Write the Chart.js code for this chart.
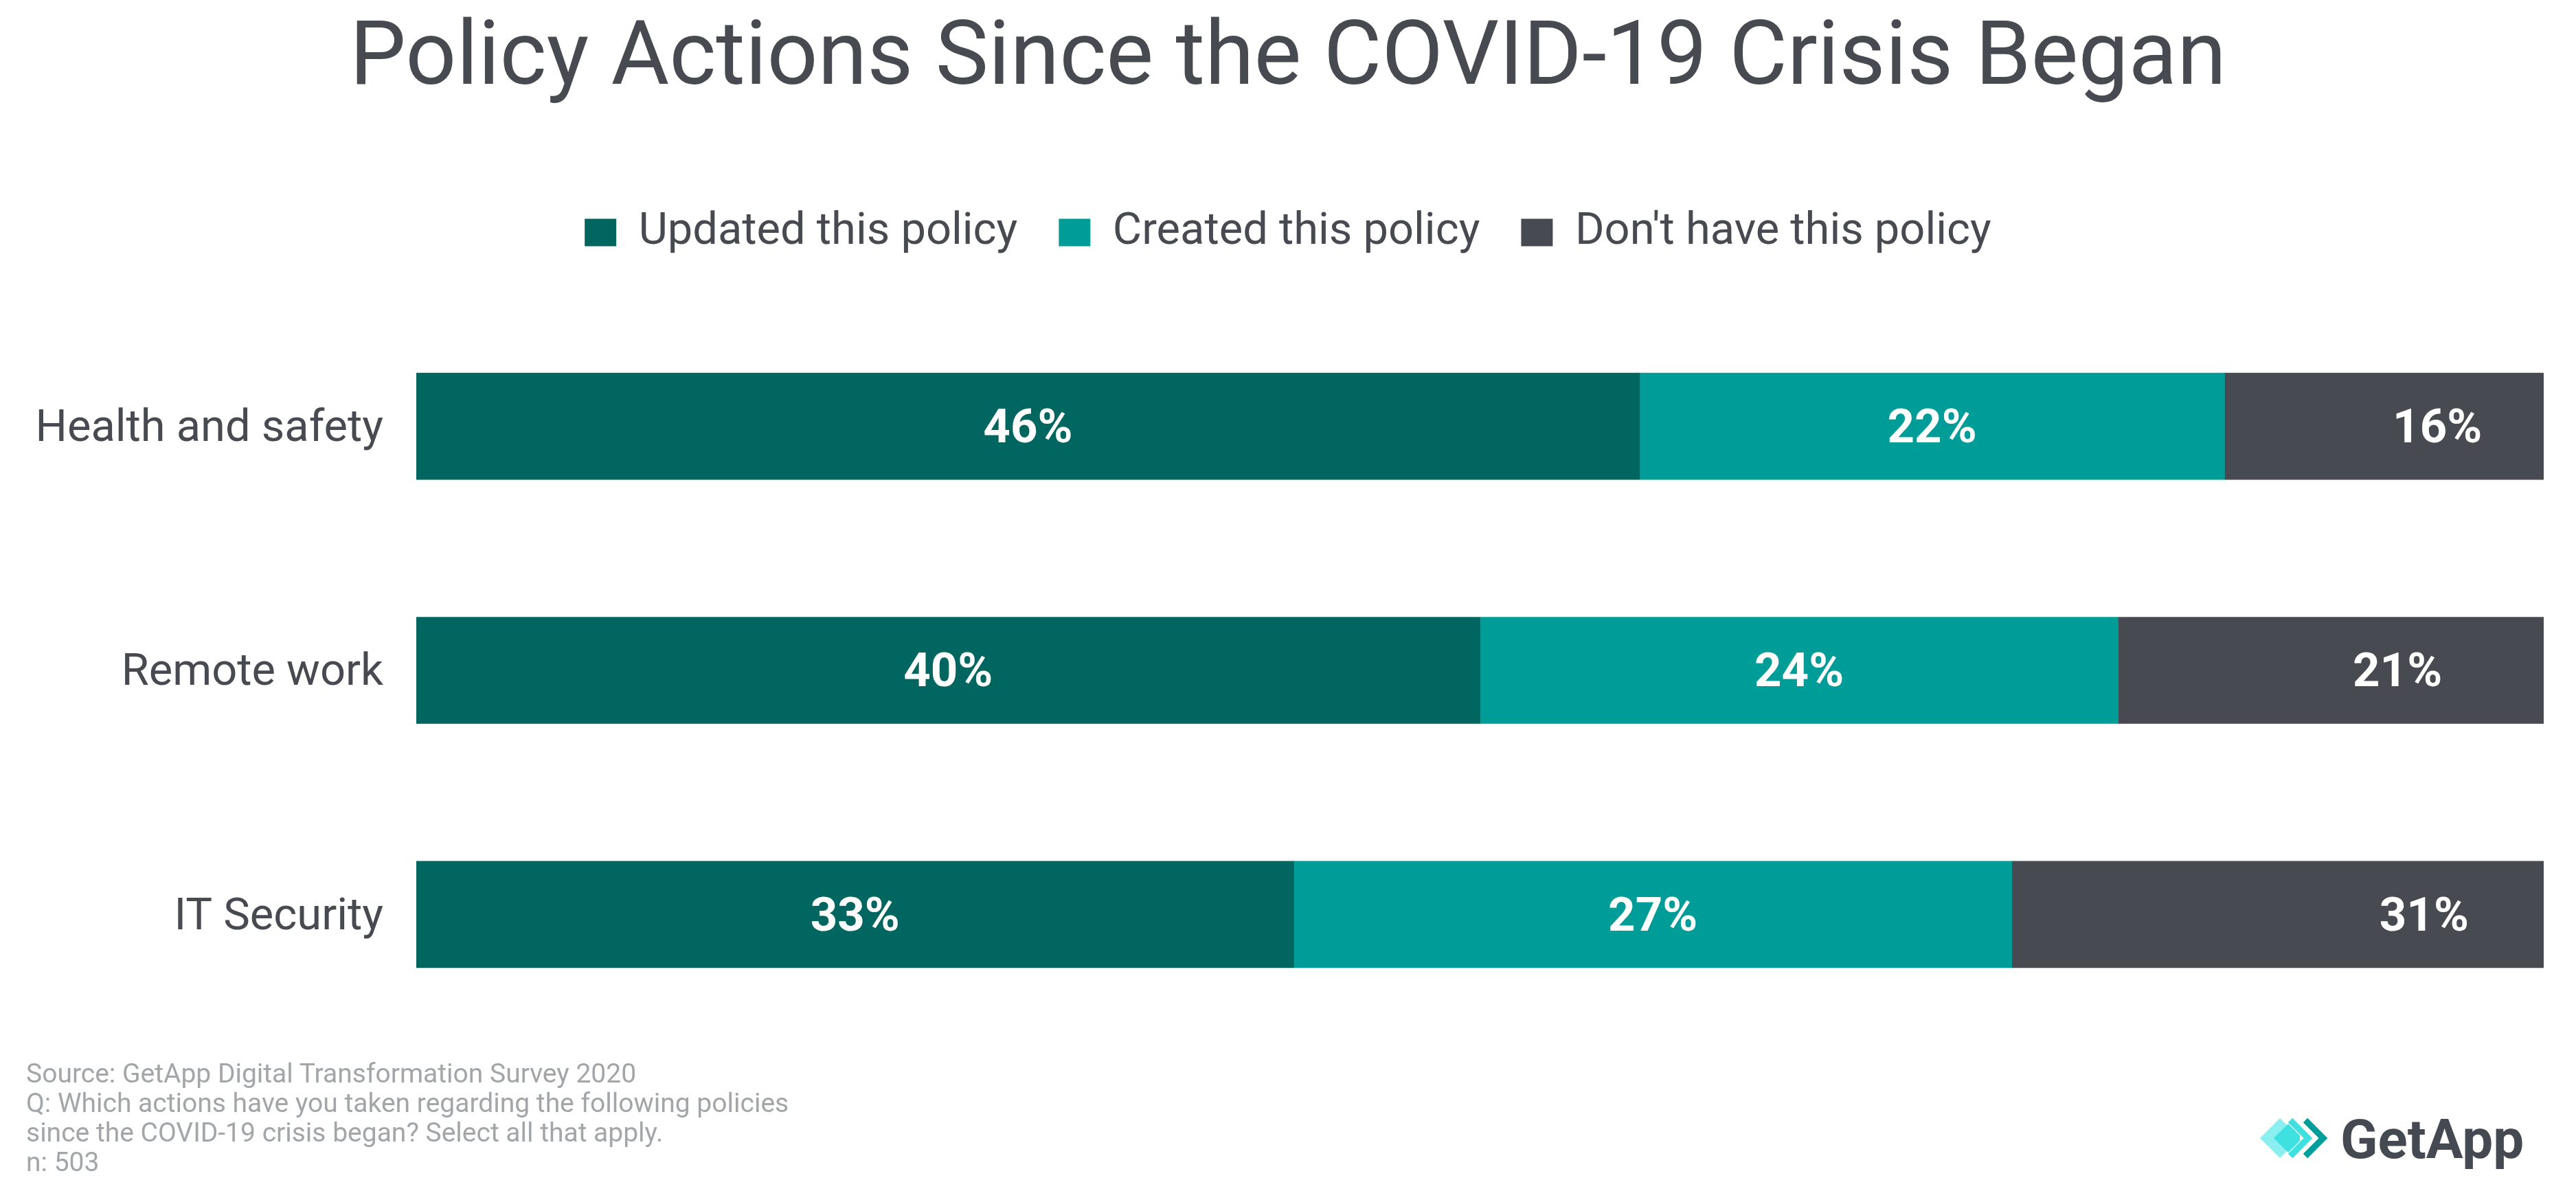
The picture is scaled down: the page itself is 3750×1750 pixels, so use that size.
<!DOCTYPE html>
<html>
<head>
<meta charset="utf-8">
<title>Policy Actions Since the COVID-19 Crisis Began</title>
<script src="https://cdn.jsdelivr.net/npm/chart.js@4.4.1/dist/chart.umd.min.js"></script>
<style>
  html, body { margin: 0; padding: 0; background: #ffffff; }
  #wrap { position: relative; width: 3750px; height: 1750px; overflow: hidden; }
  #chart, #notes { position: absolute; left: 0; top: 0; }
  #notes { pointer-events: none; font-family: Roboto, 'Noto Sans', sans-serif; }
</style>
</head>
<body>
<div id="wrap">
  <canvas id="chart" width="3750" height="1750"></canvas>
  <svg id="notes" width="3750" height="1750" viewBox="0 0 3750 1750">
    <!-- source notes -->
    <g fill="#a3a6a9" font-size="39">
      <text x="38" y="1576">Source: GetApp Digital Transformation Survey 2020</text>
      <text x="38" y="1619">Q: Which actions have you taken regarding the following policies</text>
      <text x="38" y="1662">since the COVID-19 crisis began? Select all that apply.</text>
      <text x="38" y="1705">n: 503</text>
    </g>
    <!-- GetApp logo -->
    <g>
      <polygon points="3290,1657 3319,1628 3348,1657 3319,1686" fill="#8cefef"/>
      <polygon points="3310,1657 3331,1636 3348,1653 3348,1661 3331,1678" fill="#3fe1e0"/>
      <polyline points="3334,1631 3360,1657 3334,1683" fill="none" stroke="#3fe1e0" stroke-width="9"/>
      <polyline points="3356,1631 3382,1657 3356,1683" fill="none" stroke="#009e9a" stroke-width="9"/>
      <text x="3407" y="1686" font-size="80" font-weight="700" fill="#454a52">GetApp</text>
    </g>
  </svg>
</div>
<script>
Chart.defaults.font.family = "Roboto, 'Noto Sans', sans-serif";
Chart.defaults.color = '#474a51';

// Data
const categories = ['Health and safety', 'Remote work', 'IT Security'];
const seriesNames = ['Updated this policy', 'Created this policy', "Don't have this policy"];
const updatedPct = [46, 40, 33];
const createdPct = [22, 24, 27];
const noPolicyPct = [16, 21, 31];
const seriesColors = ['#00665f', '#009c98', '#474a51'];
const axisMax = 80; // the original axis stops at 80%, so the last segment is cut off

// Value labels, centred on the full (unclipped) segment
const barLabels = {
  id: 'barLabels',
  afterDatasetsDraw(chart) {
    const ctx = chart.ctx;
    ctx.save();
    ctx.font = "700 69px Roboto, 'Noto Sans', sans-serif";
    ctx.fillStyle = '#ffffff';
    ctx.textAlign = 'center';
    ctx.textBaseline = 'middle';
    chart.data.datasets.forEach((ds, i) => {
      chart.getDatasetMeta(i).data.forEach((bar, j) => {
        const p = bar.getProps(['x', 'base', 'y'], true);
        ctx.fillText(ds.data[j] + '%', (p.x + p.base) / 2, p.y + 6);
      });
    });
    ctx.restore();
  }
};

const seriesData = [updatedPct, createdPct, noPolicyPct];

new Chart(document.getElementById('chart'), {
  type: 'bar',
  data: {
    labels: categories,
    datasets: seriesNames.map((name, i) => ({
      label: name,
      data: seriesData[i],
      backgroundColor: seriesColors[i],
      borderWidth: 0,
      barThickness: 155,
      clip: 0
    }))
  },
  options: {
    indexAxis: 'y',
    responsive: false,
    animation: false,
    devicePixelRatio: 1,
    events: [],
    layout: { padding: { left: 47, right: 47, top: 0, bottom: 241 } },
    plugins: {
      title: {
        display: true,
        text: 'Policy Actions Since the COVID-19 Crisis Began',
        color: '#474a51',
        font: { size: 130, weight: '400' },
        padding: { top: 11, bottom: 79 }
      },
      legend: {
        display: true,
        position: 'top',
        labels: {
          boxWidth: 46,
          boxHeight: 40,
          padding: 60,
          color: '#474a51',
          font: { size: 65 }
        }
      },
      tooltip: { enabled: false }
    },
    scales: {
      x: {
        position: 'top',
        stacked: true,
        min: 0,
        max: axisMax,
        grid: { display: false, drawTicks: false },
        border: { display: false },
        ticks: { display: false },
        afterFit: (scale) => { scale.height = 62; }
      },
      y: {
        stacked: true,
        grid: { display: false, drawTicks: false },
        border: { display: false },
        ticks: { color: '#474a51', font: { size: 65 }, padding: 48, labelOffset: 5 },
        afterFit: (scale) => { scale.width = 559; }
      }
    }
  },
  plugins: [barLabels]
});
</script>
</body>
</html>
